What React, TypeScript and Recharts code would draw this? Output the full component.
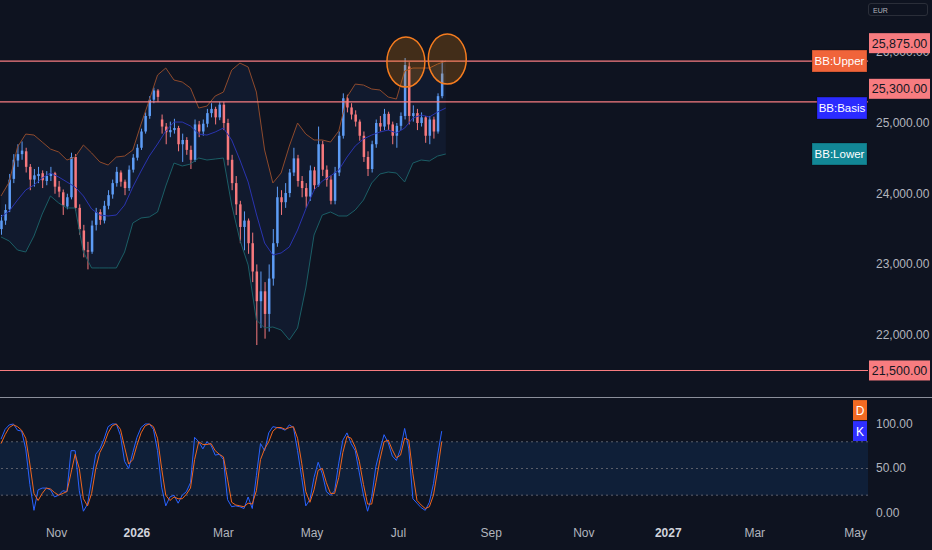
import React from 'react'
import {
  ComposedChart,
  Bar,
  Line,
  Area,
  XAxis,
  YAxis,
  ReferenceLine,
  ReferenceDot,
  ReferenceArea
} from 'recharts'

// trading-day index of each (2-day) candle
const T = [
  0, 2, 4, 6, 8, 10, 12, 14, 16, 18, 20, 22, 24, 26, 28, 30, 32, 34, 36, 38,
  40, 42, 44, 46, 48, 50, 52, 54, 56, 58, 60, 62, 64, 66, 68, 70, 72, 74, 76, 78,
  80, 82, 84, 86, 88, 90, 92, 94, 96, 98, 100, 102, 104, 106, 108, 110, 112, 114, 116, 118,
  120, 122, 124, 126, 128, 130, 132, 134, 136, 138, 140, 142, 144, 146, 148, 150, 152, 154, 156, 158,
  160, 162, 164, 166, 168, 170, 172, 174, 176, 178, 180, 182, 184, 186, 188, 190, 192, 194, 196, 198,
  200, 202, 204, 206, 208, 210, 212, 214
]

const OPEN = [
  23500, 23620, 23780, 24210, 24470, 24560, 24600, 24380, 24200, 24250,
  24290, 24180, 24250, 24290, 24100, 24020, 23820, 23950, 24520, 23800,
  23480, 23200, 23180, 23560, 23740, 23620, 23830, 23990, 24150, 24300,
  24170, 24080, 24340, 24510, 24650, 24880, 25100, 25330, 25460, 25050,
  24950, 24870, 24900, 24930, 24700, 24760, 24620, 24480, 24980, 24880,
  24990, 25140, 25200, 25080, 25260, 25000, 24480, 24150, 23850, 23530,
  23620, 23300, 22900, 22480, 22620, 22300, 22800, 23300, 23950, 23880,
  24010, 24300, 24500, 24180, 24080, 23960, 24330, 24120, 24700, 24340,
  24200, 23900, 24300, 24820, 25350, 25220, 25120, 25020, 24820, 24520,
  24350, 24700, 25000, 24950, 25130, 24980, 24820, 24960, 25100, 25800,
  25100, 25140, 25000, 25080, 24820, 25050, 24880, 25380
]

const HIGH = [
  23700, 23850, 24280, 24560, 24700, 24740, 24650, 24420, 24350, 24380,
  24330, 24320, 24380, 24310, 24180, 24060, 24000, 24580, 24560, 23850,
  23560, 23320, 23620, 23800, 23780, 23900, 24050, 24200, 24380, 24330,
  24200, 24400, 24560, 24700, 24920, 25150, 25380, 25500, 25480, 25120,
  25000, 25020, 25060, 24960, 24850, 24800, 24680, 25050, 25030, 25050,
  25200, 25280, 25230, 25300, 25300, 25060, 24550, 24250, 23900, 23750,
  23650, 23450, 23000, 22900, 22750, 23000, 23500, 24100, 24050, 24150,
  24350, 24650, 24550, 24250, 24150, 24400, 24380, 24950, 24750, 24400,
  24260, 24380, 24880, 25420, 25400, 25280, 25180, 25050, 24880, 24600,
  24750, 25050, 25100, 25200, 25160, 25020, 25000, 25150, 25920, 25860,
  25250, 25200, 25150, 25100, 25100, 25090, 25420, 25880
]

const LOW = [
  23420, 23560, 23740, 24150, 24380, 24480, 24300, 24050, 24100, 24150,
  24080, 24120, 24180, 24000, 23950, 23700, 23780, 23920, 23760, 23420,
  23100, 22930, 23150, 23480, 23560, 23580, 23780, 23930, 24100, 24100,
  23980, 24040, 24300, 24470, 24620, 24850, 25060, 25280, 25300, 24850,
  24700, 24800, 24850, 24600, 24450, 24550, 24350, 24450, 24800, 24820,
  24940, 25080, 24980, 25040, 24900, 24400, 24050, 23700, 23300, 23200,
  23150, 22750, 21860, 22100, 21950, 22050, 22700, 23250, 23700, 23800,
  23950, 24250, 24100, 23950, 23800, 23900, 24050, 24100, 24250, 24100,
  23850, 23850, 24250, 24780, 25150, 25050, 24950, 24750, 24450, 24250,
  24300, 24650, 24880, 24900, 24900, 24700, 24650, 24900, 25050, 24980,
  25020, 24900, 24950, 24720, 24700, 24780, 24850, 25350
]

const CLOSE = [
  23620, 23770, 24200, 24480, 24560, 24610, 24380, 24200, 24260, 24280,
  24190, 24250, 24290, 24100, 24030, 23830, 23950, 24520, 23800, 23500,
  23200, 23180, 23550, 23740, 23630, 23830, 23980, 24150, 24310, 24170,
  24080, 24340, 24510, 24650, 24880, 25100, 25330, 25460, 25370, 24950,
  24870, 24900, 24930, 24700, 24760, 24620, 24480, 24980, 24880, 24990,
  25140, 25200, 25080, 25260, 25000, 24480, 24150, 23850, 23530, 23620,
  23300, 22900, 22480, 22620, 22300, 22800, 23300, 23950, 23880, 24010,
  24300, 24500, 24180, 24080, 23960, 24330, 24120, 24700, 24340, 24200,
  23900, 24300, 24820, 25350, 25220, 25120, 25020, 24820, 24520, 24350,
  24700, 25000, 24950, 25130, 24980, 24820, 24960, 25100, 25820, 25100,
  25140, 25000, 25080, 24820, 25050, 24880, 25380, 25700
]

// Bollinger bands, read every 4 trading days
const BB_T = [
  0, 4, 8, 12, 16, 20, 24, 28, 32, 36, 40, 44, 48, 52, 56, 60, 64, 68, 72, 76,
  80, 84, 88, 92, 96, 100, 104, 108, 112, 116, 120, 124, 128, 132, 136, 140, 144, 148, 152, 156,
  160, 164, 168, 172, 176, 180, 184, 188, 192, 196, 200, 204, 208, 212, 216
]
const BB_UP = [
  23968, 24166, 24661, 24844, 24830, 24731, 24632, 24590, 24477, 24519,
  24689, 24576, 24449, 24406, 24519, 24533, 24618, 24986, 25325, 25679,
  25778, 25608, 25580, 25495, 25212, 25240, 25382, 25438, 25749, 25848,
  25792, 25438, 24618, 24152, 24293, 24675, 25000, 24844, 24760, 24760,
  24731, 24887, 25368, 25551, 25537, 25481, 25467, 25368, 25339, 25735,
  25778, 25778, 25778, 25834, 25877
]
const BB_MID = [
  23671, 23756, 23911, 24053, 24123, 24222, 24293, 24236, 24166, 24095,
  23968, 23784, 23699, 23685, 23699, 23840, 24095, 24321, 24533, 24703,
  24887, 25014, 25014, 24958, 24844, 24830, 24873, 24929, 24760, 24477,
  24166, 23713, 23303, 23133, 23162, 23247, 23487, 23784, 24053, 24180,
  24251, 24335, 24519, 24675, 24774, 24830, 24873, 24901, 24859, 24929,
  25071, 25113, 25085, 25156, 25212
]
const BB_LOW = [
  23388, 23331, 23204, 23176, 23402, 23713, 23968, 23869, 23798, 23798,
  23176, 22950, 22950, 22950, 22950, 23176, 23586, 23657, 23671, 23742,
  24109, 24434, 24392, 24420, 24505, 24477, 24491, 24505, 23840, 23346,
  22992, 22214, 22101, 22115, 22073, 21932, 22101, 22667, 23416, 23699,
  23742, 23685, 23685, 23770, 23911, 24152, 24279, 24307, 24293, 24166,
  24434, 24477, 24463, 24533, 24562
]

// Stochastic %K and %D
const STOCH_K = [
  83, 94, 99, 100, 93, 92, 72, 32, 3, 26,
  28, 28, 26, 18, 20, 25, 24, 70, 70, 25,
  2, 10, 38, 66, 72, 83, 97, 100, 100, 87,
  58, 50, 68, 85, 96, 100, 100, 94, 70, 29,
  8, 18, 20, 11, 20, 24, 34, 85, 80, 72,
  80, 76, 65, 66, 60, 15, 7, 8, 7, 5,
  18, 5, 42, 78, 70, 90, 97, 96, 95, 93,
  99, 96, 70, 40, 8, 15, 40, 57, 44, 24,
  20, 25, 56, 82, 90, 78, 70, 45, 20, 2,
  18, 52, 71, 88, 79, 64, 59, 72, 95, 72,
  16, 11, 6, 3, 12, 33, 65, 92
]
const STOCH_D = [
  78, 88, 96, 99, 97, 93, 84, 55, 22, 14,
  22, 28, 27, 23, 20, 22, 24, 45, 66, 50,
  16, 8, 22, 50, 68, 77, 90, 98, 100, 94,
  74, 55, 60, 76, 90, 98, 100, 97, 84, 50,
  20, 14, 18, 16, 16, 21, 28, 60, 80, 77,
  77, 78, 70, 66, 63, 38, 12, 9, 8, 7,
  11, 10, 25, 60, 72, 80, 92, 96, 96, 94,
  96, 97, 84, 56, 24, 12, 26, 48, 50, 34,
  22, 22, 40, 68, 86, 84, 74, 58, 32, 10,
  10, 34, 60, 80, 82, 71, 62, 65, 84, 82,
  44, 14, 9, 5, 7, 20, 48, 80
]

// time axis
const MONTH_T = [27, 66, 108, 151, 193, 238, 283, 324, 366, 415]
const MONTH_LABELS = ['Nov', '2026', 'Mar', 'May', 'Jul', 'Sep', 'Nov', '2027', 'Mar', 'May']
const X_DOMAIN = [-0.5, 421]

// horizontal levels drawn on the chart
const LEVELS = [25875, 25300, 21500]
const PRICE_TICKS = [22000, 23000, 24000, 25000, 26000]
const STOCH_TICKS = [0, 50, 100]

// circled highs (trading day, price)
const HIGHLIGHT_T = [196.6, 216.7]
const HIGHLIGHT_P = [25862, 25905]

const BG = '#0e1320'
const UP = '#5d9cf5'
const DOWN = '#f7797d'
const AXIS_TEXT = '#b2b5be'
const LEVEL = '#f77c80'
const FONT = "'Liberation Sans', Arial, sans-serif"
// level tags pushed up so they do not collide
const TAG_SHIFT = [-18, -13, 0]

const candles = T.map((t, i) => ({
  t,
  o: OPEN[i],
  h: HIGH[i],
  l: LOW[i],
  c: CLOSE[i],
  range: [LOW[i], HIGH[i]]
}))

const bands = BB_T.map((t, i) => ({
  t,
  up: BB_UP[i],
  mid: BB_MID[i],
  low: BB_LOW[i],
  band: [BB_LOW[i], BB_UP[i]]
}))

const stoch = T.map((t, i) => ({ t, k: STOCH_K[i], d: STOCH_D[i] }))

const fmt = (v: number) =>
  v.toLocaleString('en-US', { minimumFractionDigits: 2, maximumFractionDigits: 2 })

function Candle(props: any) {
  const { x, y, width, height, payload } = props
  if (!payload || !isFinite(y) || !isFinite(height)) return null
  const color = payload.c >= payload.o ? UP : DOWN
  const span = payload.h - payload.l || 1
  const toY = (v: number) => y + ((payload.h - v) / span) * height
  const cx = x + width / 2
  const top = toY(Math.max(payload.o, payload.c))
  const bot = toY(Math.min(payload.o, payload.c))
  return (
    <g>
      <line x1={cx} x2={cx} y1={y} y2={y + height} stroke={color} strokeWidth={1} />
      <rect x={cx - 1.25} y={top} width={2.5} height={Math.max(1, bot - top)} fill={color} />
    </g>
  )
}

// plain tick text, or a coloured tag for the level values (drawn last, on top)
function PriceTick({ x, y, payload }: any) {
  const idx = LEVELS.indexOf(payload.value)
  if (idx >= 0) {
    const cy = y + TAG_SHIFT[idx]
    return (
      <g>
        <rect x={x + 1} y={cy - 10} width={61} height={20} fill={LEVEL} />
        <text x={x + 31.5} y={cy + 4.5} textAnchor="middle" fontSize={12.5} fill="#131722" fontFamily={FONT}>
          {fmt(payload.value)}
        </text>
      </g>
    )
  }
  return (
    <text x={x + 8} y={y} dy={4} fill={AXIS_TEXT} fontSize={12} fontFamily={FONT}>
      {fmt(payload.value)}
    </text>
  )
}

function MonthTick({ x, y, payload }: any) {
  const label = MONTH_LABELS[MONTH_T.indexOf(payload.value)]
  const isYear = /^\d{4}$/.test(label || '')
  return (
    <text
      x={x}
      y={y + 12}
      textAnchor="middle"
      fill={isYear ? '#d1d4dc' : AXIS_TEXT}
      fontWeight={isYear ? 'bold' : 'normal'}
      fontSize={12}
      fontFamily={FONT}
    >
      {label}
    </text>
  )
}

// indicator tag ending at the right edge of the plot
function SideTag({ cx, cy, label, bg, w }: any) {
  return (
    <g>
      <rect x={cx - w} y={cy - 11} width={w - 1} height={22} fill={bg} stroke="rgba(0,0,0,0.25)" strokeWidth={1} />
      <text x={cx - w / 2 - 0.5} y={cy + 4} textAnchor="middle" fontSize={11.5} fill="#ffffff" fontFamily={FONT}>
        {label}
      </text>
    </g>
  )
}

function StochTags({ cx, cy }: any) {
  return (
    <g fontFamily={FONT} fontSize={12}>
      <rect x={cx - 15} y={cy - 31} width={14} height={20} fill="#f26a22" />
      <text x={cx - 8} y={cy - 16} textAnchor="middle" fill="#ffffff">D</text>
      <rect x={cx - 15} y={cy - 10} width={14} height={20} fill="#2f2fff" />
      <text x={cx - 8} y={cy + 5} textAnchor="middle" fill="#ffffff">K</text>
    </g>
  )
}

function Ring({ cx, cy }: any) {
  return (
    <ellipse
      cx={cx}
      cy={cy}
      rx={19}
      ry={25}
      fill="rgba(255, 140, 0, 0.22)"
      stroke="#f57c1f"
      strokeWidth={1.5}
    />
  )
}

export default function App() {
  const last = bands.length - 1
  return (
    <div
      style={{
        position: 'fixed',
        left: 0,
        top: 0,
        width: 932,
        height: 550,
        background: BG,
        overflow: 'hidden',
        fontFamily: FONT
      }}
    >
      <div style={{ position: 'absolute', left: 0, top: 0 }}>
        <ComposedChart width={932} height={397} data={candles} margin={{ top: 0, right: 0, bottom: 0, left: 0 }}>
          <XAxis type="number" dataKey="t" domain={X_DOMAIN} allowDataOverflow hide />
          <YAxis
            orientation="right"
            width={64}
            domain={[21125, 26740]}
            ticks={[...PRICE_TICKS, ...LEVELS]}
            interval={0}
            allowDataOverflow
            axisLine={false}
            tickLine={false}
            tickSize={0}
            tickMargin={0}
            tick={<PriceTick />}
          />
          <Area
            data={bands}
            dataKey="band"
            stroke="none"
            fill="#111a2e"
            fillOpacity={1}
            dot={false}
            activeDot={false}
            isAnimationActive={false}
          />
          <Line data={bands} dataKey="up" stroke="#8e4a2c" strokeWidth={1} dot={false} activeDot={false} isAnimationActive={false} />
          <Line data={bands} dataKey="mid" stroke="#2a34b0" strokeWidth={1} dot={false} activeDot={false} isAnimationActive={false} />
          <Line data={bands} dataKey="low" stroke="#1b5e66" strokeWidth={1} dot={false} activeDot={false} isAnimationActive={false} />
          <Bar dataKey="range" barSize={3} shape={<Candle />} isAnimationActive={false} />
          {LEVELS.map((lv) => (
            <ReferenceLine key={lv} y={lv} stroke={LEVEL} strokeWidth={1.2} />
          ))}
          {HIGHLIGHT_T.map((t, i) => (
            <ReferenceDot key={t} x={t} y={HIGHLIGHT_P[i]} r={0} shape={<Ring />} />
          ))}
          <ReferenceDot
            x={X_DOMAIN[1]}
            y={BB_UP[last]}
            r={0}
            shape={<SideTag label="BB:Upper" bg="#f0643a" w={56} />}
          />
          <ReferenceDot
            x={X_DOMAIN[1]}
            y={BB_MID[last]}
            r={0}
            shape={<SideTag label="BB:Basis" bg="#2b2bff" w={51} />}
          />
          <ReferenceDot
            x={X_DOMAIN[1]}
            y={BB_LOW[last]}
            r={0}
            shape={<SideTag label="BB:Lower" bg="#128796" w={56} />}
          />
        </ComposedChart>
      </div>

      <div style={{ position: 'absolute', left: 0, top: 397, width: 932, height: 1, background: '#8b8f9b' }} />

      <div style={{ position: 'absolute', left: 0, top: 397 }}>
        <ComposedChart width={932} height={153} data={stoch} margin={{ top: 1, right: 0, bottom: 0, left: 0 }}>
          <XAxis
            type="number"
            dataKey="t"
            domain={X_DOMAIN}
            allowDataOverflow
            ticks={MONTH_T}
            interval={0}
            height={25}
            axisLine={false}
            tickLine={false}
            tickSize={0}
            tickMargin={0}
            tick={<MonthTick />}
          />
          <YAxis
            orientation="right"
            width={64}
            domain={[-13.5, 129.2]}
            ticks={STOCH_TICKS}
            interval={0}
            allowDataOverflow
            axisLine={false}
            tickLine={false}
            tickSize={0}
            tickMargin={0}
            tick={<PriceTick />}
          />
          <ReferenceArea y1={20} y2={80} fill="#0f1f38" fillOpacity={1} stroke="none" />
          <ReferenceLine y={80} stroke="#5d606b" strokeDasharray="2 3" />
          <ReferenceLine y={50} stroke="#5d606b" strokeDasharray="2 3" />
          <ReferenceLine y={20} stroke="#5d606b" strokeDasharray="2 3" />
          <Line dataKey="k" stroke="#2962ff" strokeWidth={1} dot={false} activeDot={false} isAnimationActive={false} />
          <Line dataKey="d" stroke="#f0651e" strokeWidth={1} dot={false} activeDot={false} isAnimationActive={false} />
          <ReferenceDot x={X_DOMAIN[1]} y={STOCH_K[STOCH_K.length - 1]} r={0} shape={<StochTags />} />
        </ComposedChart>
      </div>

      <div
        style={{
          position: 'absolute',
          left: 868,
          top: 3,
          width: 60,
          height: 13,
          border: '1px solid #2a2e39',
          borderRadius: 3,
          color: AXIS_TEXT,
          fontSize: 7,
          lineHeight: '13px',
          paddingLeft: 4,
          boxSizing: 'border-box'
        }}
      >
        EUR
      </div>
    </div>
  )
}
